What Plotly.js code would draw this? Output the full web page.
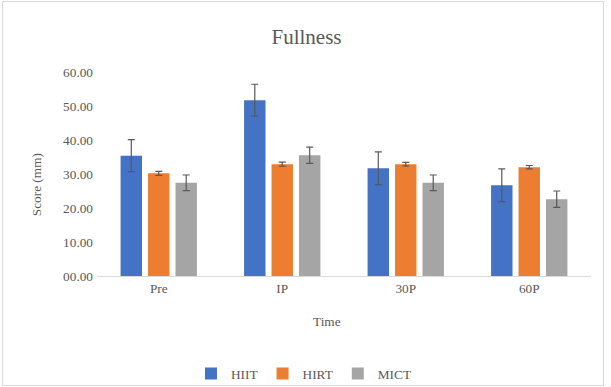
<!DOCTYPE html>
<html>
<head>
<meta charset="utf-8">
<script src="https://cdn.plot.ly/plotly-3.0.1.min.js"></script>
<style>
  html, body { margin: 0; padding: 0; background: #ffffff; }
  #wrap { position: relative; width: 611px; height: 387px; }
  #chart { position: absolute; left: 0; top: 0; width: 611px; height: 387px; }
  #frame { position: absolute; left: 2px; top: 1px; width: 600px; height: 383px;
           border: 1px solid #d9d9d9; pointer-events: none; }
</style>
</head>
<body>
<div id="wrap">
  <div id="chart"></div>
  <div id="frame"></div>
</div>
<script>
// Time points
const timepoints = ['Pre', 'IP', '30P', '60P'];

// Mean fullness scores (mm)
const hiit = [35.4, 51.7, 31.7, 26.7];
const hirt = [30.2, 32.9, 32.9, 32.0];
const mict = [27.4, 35.5, 27.4, 22.6];

// Error bar half-widths (mm)
const hiitErr = [4.7, 4.7, 4.8, 4.8];
const hirtErr = [0.6, 0.6, 0.5, 0.5];
const mictErr = [2.3, 2.4, 2.3, 2.4];

const seriesNames = ['HIIT', 'HIRT', 'MICT'];
const seriesColors = ['#4472C4', '#ED7D31', '#A5A5A5'];

const font = "'Liberation Serif', 'Times New Roman', Times, serif";
const textColor = '#595959';

function makeBar(name, values, errs, color) {
  return {
    type: 'bar',
    name: name,
    x: timepoints,
    y: values,
    marker: { color: color, line: { width: 0 } },
    error_y: {
      type: 'data',
      array: errs,
      visible: true,
      color: '#595959',
      thickness: 1.2,
      width: 3.5
    },
    hoverinfo: 'x+y+name'
  };
}

const data = [
  makeBar(seriesNames[0], hiit, hiitErr, seriesColors[0]),
  makeBar(seriesNames[1], hirt, hirtErr, seriesColors[1]),
  makeBar(seriesNames[2], mict, mictErr, seriesColors[2])
];

const layout = {
  width: 611,
  height: 387,
  margin: { l: 97, r: 19.5, t: 72, b: 111, pad: 0 },
  paper_bgcolor: 'rgba(0,0,0,0)',
  plot_bgcolor: '#ffffff',
  font: { family: font, color: textColor, size: 13.3 },
  title: {
    text: 'Fullness',
    font: { family: font, size: 21, color: textColor },
    xref: 'container', x: 0.5016, xanchor: 'center',
    yref: 'container', y: 0.905, yanchor: 'middle'
  },
  barmode: 'group',
  bargap: 0.333,
  bargroupgap: 0.22,
  showlegend: true,
  legend: {
    orientation: 'h',
    xref: 'container', x: 0.4975, xanchor: 'center',
    yref: 'container', y: 0.034, yanchor: 'middle',
    font: { family: font, size: 13.3, color: textColor },
    itemwidth: 30,
    traceorder: 'normal'
  },
  xaxis: {
    type: 'category',
    showgrid: false,
    zeroline: false,
    showline: true,
    linecolor: '#d9d9d9',
    linewidth: 1,
    ticks: '',
    tickfont: { family: font, size: 13.3, color: textColor },
    automargin: false,
    fixedrange: true
  },
  yaxis: {
    range: [0, 60],
    dtick: 10,
    tick0: 0,
    tickformat: '05.2f',
    showgrid: false,
    zeroline: false,
    showline: false,
    ticks: '',
    ticklabelstandoff: 3,
    tickfont: { family: font, size: 13.3, color: textColor },
    automargin: false,
    fixedrange: true
  },
  annotations: [
    {
      text: 'Score (mm)',
      xref: 'paper', yref: 'paper',
      x: -0.122, y: 0.4485,
      xanchor: 'center', yanchor: 'middle',
      textangle: -90,
      showarrow: false,
      font: { family: font, size: 13.3, color: textColor }
    },
    {
      text: 'Time',
      xref: 'paper', yref: 'paper',
      x: 0.466, y: -0.224,
      xanchor: 'center', yanchor: 'middle',
      showarrow: false,
      font: { family: font, size: 13.3, color: textColor }
    }
  ]
};

Plotly.newPlot('chart', data, layout, { displayModeBar: false, staticPlot: true });
</script>
</body>
</html>
